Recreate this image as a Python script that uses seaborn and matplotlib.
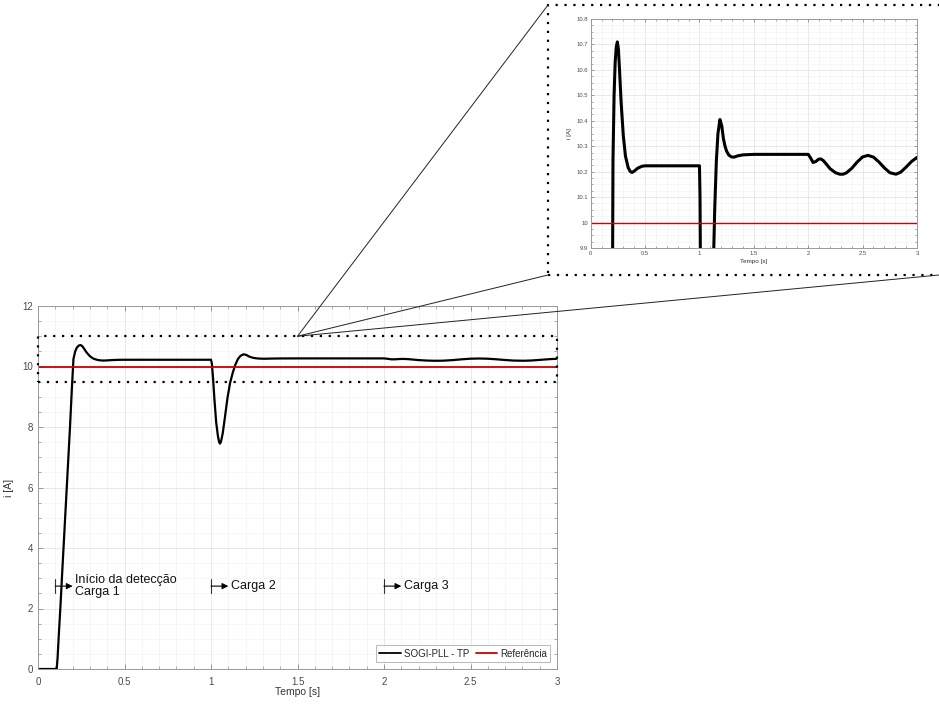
import matplotlib
matplotlib.use("Agg")
import numpy as np
import pandas as pd
import seaborn as sns
import matplotlib.pyplot as plt
from matplotlib.patches import Rectangle, ConnectionPatch
from matplotlib.ticker import MultipleLocator, FormatStrFormatter

# Measured current of the SOGI-PLL - TP scheme [A] over time [s]
tempo = [0.0, 0.108, 0.113, 0.12, 0.13, 0.14, 0.155, 0.17, 0.185, 0.196,
         0.205, 0.215, 0.225, 0.235, 0.245, 0.255, 0.265, 0.28, 0.30, 0.32,
         0.345, 0.365, 0.38, 0.40, 0.43, 0.47, 0.50, 1.0, 1.005, 1.012,
         1.02, 1.03, 1.04, 1.047, 1.052, 1.058, 1.068, 1.08, 1.095, 1.11,
         1.125, 1.14, 1.155, 1.17, 1.188, 1.205, 1.22, 1.235, 1.25, 1.27,
         1.295, 1.317, 1.35, 1.40, 1.50, 2.0, 2.02, 2.045, 2.07, 2.095,
         2.117, 2.14, 2.17, 2.20, 2.25, 2.29, 2.32, 2.35, 2.40, 2.45,
         2.50, 2.55, 2.60, 2.65, 2.70, 2.75, 2.806, 2.85, 2.90, 2.95, 3.0]
corrente = [0.0, 0.0, 0.35, 1.1, 2.1, 3.2, 4.8, 6.4, 8.0, 9.3,
            10.25, 10.5, 10.63, 10.69, 10.71, 10.68, 10.6, 10.47, 10.34, 10.26,
            10.215, 10.2, 10.197, 10.202, 10.213, 10.221, 10.223, 10.223, 10.1, 9.6,
            8.9, 8.15, 7.7, 7.5, 7.45, 7.52, 7.8, 8.3, 8.95, 9.45,
            9.78, 10.05, 10.24, 10.35, 10.405, 10.38, 10.33, 10.3, 10.28, 10.265,
            10.258, 10.257, 10.262, 10.266, 10.268, 10.268, 10.255, 10.236, 10.24, 10.249,
            10.25, 10.243, 10.228, 10.212, 10.196, 10.19, 10.19, 10.195, 10.213, 10.238,
            10.258, 10.264, 10.257, 10.238, 10.215, 10.196, 10.19, 10.198, 10.218, 10.24, 10.256]

# Reference current
ref_tempo = [0.0, 3.0]
ref_corrente = [10.0, 10.0]

# Load-event markers
eventos_t = [0.1, 1.0, 2.0]
eventos_txt = ["Início da detecção\nCarga 1", "Carga 2", "Carga 3"]
evento_y = 2.74

serie_sogi = "SOGI-PLL - TP"
serie_ref = "Referência"

df = pd.concat([
    pd.DataFrame({"t": tempo, "i": corrente, "serie": serie_sogi}),
    pd.DataFrame({"t": ref_tempo, "i": ref_corrente, "serie": serie_ref}),
], ignore_index=True)
cores = {serie_sogi: "black", serie_ref: "#cc0000"}

sns.set_style("ticks")
plt.rcParams["font.family"] = ["Liberation Sans", "DejaVu Sans"]

W, H = 939, 705
fig = plt.figure(figsize=(W / 100, H / 100), dpi=100)
ax = fig.add_axes([38 / W, 1 - 669 / H, (557 - 38) / W, (669 - 306) / H])
axi = fig.add_axes([590.7 / W, 1 - 248 / H, (917 - 590.7) / W, (248 - 19) / H])


def estilo(a, fs):
    a.grid(which="major", color="#e5e5e5", lw=0.6)
    a.grid(which="minor", color="#f3f3f3", lw=0.5)
    a.set_axisbelow(True)
    a.tick_params(which="both", direction="in", top=True, right=True,
                  colors="#8a8a8a", labelcolor="#4a4a4a", labelsize=fs)
    a.tick_params(which="major", length=3.5, width=0.6)
    a.tick_params(which="minor", length=2, width=0.5)
    for s in a.spines.values():
        s.set_color("#9a9a9a")
        s.set_linewidth(0.7)


# Main axes
sns.lineplot(data=df, x="t", y="i", hue="serie", palette=cores,
             estimator=None, sort=False, lw=1.6, ax=ax)
for ln in ax.get_lines():
    if ln.get_color() == "#cc0000":
        ln.set_linewidth(1.3)
ax.set_xlim(0, 3)
ax.set_ylim(0, 12)
ax.xaxis.set_major_locator(MultipleLocator(0.5))
ax.xaxis.set_minor_locator(MultipleLocator(0.1))
ax.yaxis.set_major_locator(MultipleLocator(2))
ax.yaxis.set_minor_locator(MultipleLocator(0.5))
ax.xaxis.set_major_formatter(FormatStrFormatter("%g"))
ax.yaxis.set_major_formatter(FormatStrFormatter("%g"))
estilo(ax, 7)
ax.tick_params(axis="x", which="major", pad=6)
ax.set_xlabel("Tempo [s]", fontsize=7.5, color="#333333", labelpad=0)
ax.set_ylabel("i [A]", fontsize=7.5, color="#333333", labelpad=6)

leg = ax.legend(loc="lower right", ncol=2, fontsize=7, frameon=True,
                fancybox=False, handlelength=2.2, handletextpad=0.3,
                columnspacing=0.7, borderpad=0.35, borderaxespad=0.7)
leg.get_frame().set_edgecolor("#9a9a9a")
leg.get_frame().set_linewidth(0.6)
for h in leg.get_lines():
    h.set_linewidth(1.3)

# Event markers: bar + arrow + label
for te, txt in zip(eventos_t, eventos_txt):
    ax.plot([te, te], [evento_y - 0.24, evento_y + 0.24], color="#333333", lw=0.8)
    ax.annotate("", xy=(te + 0.1, evento_y), xytext=(te, evento_y),
                arrowprops=dict(arrowstyle="-|>", color="black", lw=0.8,
                                mutation_scale=9, shrinkA=0, shrinkB=0))
    ax.text(te + 0.115, evento_y, txt, ha="left", va="center", fontsize=9,
            color="#111111", linespacing=1.05)

# Zoom window on the main axes
ax.add_patch(Rectangle((0, 9.5), 3, 1.5, fill=False, ec="black", lw=1.6,
                       ls=(0, (1, 3.0)), clip_on=False, zorder=5))

# Inset axes
sns.lineplot(x=tempo, y=corrente, color="black", estimator=None, sort=False,
             lw=2.2, ax=axi)
sns.lineplot(x=ref_tempo, y=ref_corrente, color="#cc0000", estimator=None,
             sort=False, lw=1.0, ax=axi)
axi.set_xlim(0, 3)
axi.set_ylim(9.9, 10.8)
axi.xaxis.set_major_locator(MultipleLocator(0.5))
axi.xaxis.set_minor_locator(MultipleLocator(0.1))
axi.yaxis.set_major_locator(MultipleLocator(0.1))
axi.yaxis.set_minor_locator(MultipleLocator(0.025))
axi.xaxis.set_major_formatter(FormatStrFormatter("%g"))
axi.yaxis.set_major_formatter(FormatStrFormatter("%g"))
estilo(axi, 4.2)
axi.tick_params(which="major", length=2.5, pad=2)
axi.tick_params(which="minor", length=1.3)
axi.set_xlabel("Tempo [s]", fontsize=4.5, color="#333333", labelpad=2)
axi.set_ylabel("i [A]", fontsize=4.5, color="#333333", labelpad=3)

# Dotted frame around the inset
x0, y0, x1, y1 = 548, 5, 946, 275
fig.add_artist(Rectangle((x0 / W, 1 - y1 / H), (x1 - x0) / W, (y1 - y0) / H,
                         transform=fig.transFigure, fill=False, ec="black",
                         lw=1.6, ls=(0, (1, 3.0)), clip_on=False))

# Connector lines from the zoom window to the inset frame
for px, py in [(548, 5), (548, 275), (939, 275)]:
    fig.add_artist(ConnectionPatch(xyA=(1.5, 11), coordsA=ax.transData,
                                   xyB=(px / W, 1 - py / H),
                                   coordsB=fig.transFigure,
                                   color="#222222", lw=0.7))

fig.savefig("out.png", dpi=100)
